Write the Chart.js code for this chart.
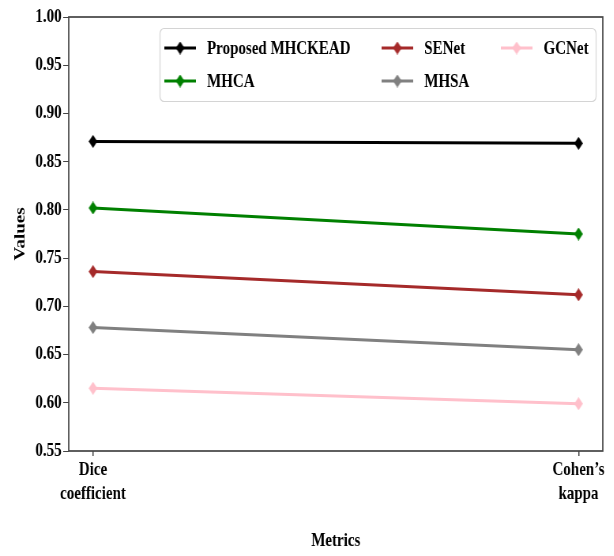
<!DOCTYPE html>
<html>
<head>
<meta charset="utf-8">
<script src="https://cdn.jsdelivr.net/npm/chart.js@4.4.1/dist/chart.umd.min.js"></script>
<style>
  html,body{margin:0;padding:0;background:#fff;overflow:hidden;}
  #wrap{width:777px;height:556px;transform:scaleX(0.79);transform-origin:0 0;}
</style>
</head>
<body>
<!-- the reference text looks squeezed sideways, so the chart is drawn wider and squeezed -->
<div id="wrap"><canvas id="chart" width="777" height="556"></canvas></div>
<script>
// data
const categories=[['Dice','coefficient'],['Cohen\u2019s','kappa']]
const seriesNames=['Proposed MHCKEAD','MHCA','SENet','MHSA','GCNet']
const proposed=[0.871,0.869]
const mhca=[0.802,0.775]
const senet=[0.736,0.712]
const mhsa=[0.678,0.655]
const gcnet=[0.615,0.599]
const yTicks=[0.55,0.60,0.65,0.70,0.75,0.80,0.85,0.90,0.95,1.00]
const colors=['#000000','#008000','#a52a2a','#808080','#ffc0cb']

const fontFamily="'Liberation Serif','Times New Roman',serif"
const axisColor='#444'

// diamond marker
function diamond(color,w,h){
    const c=document.createElement('canvas')
    c.width=w; c.height=h
    const ctx=c.getContext('2d')
    ctx.fillStyle=color
    ctx.beginPath()
    ctx.moveTo(w/2,0)
    ctx.lineTo(w,h/2)
    ctx.lineTo(w/2,h)
    ctx.lineTo(0,h/2)
    ctx.closePath()
    ctx.fill()
    return c
}

const allValues=[proposed,mhca,senet,mhsa,gcnet]
const datasets=seriesNames.map((name,i)=>({
    label:name,
    data:allValues[i].map((v,j)=>({x:j,y:v})),
    borderColor:colors[i],
    backgroundColor:colors[i],
    borderWidth:3,
    pointStyle:diamond(colors[i],11,13),
    pointRadius:6,
    tension:0
}))

// box round the plot
const frame={
    id:'frame',
    afterDraw(chart){
        const {ctx,chartArea:a}=chart
        ctx.save()
        ctx.strokeStyle=axisColor
        ctx.lineWidth=1.7
        ctx.strokeRect(a.left,a.top,a.right-a.left,a.bottom-a.top)
        ctx.restore()
    }
}

// legend inside the plot, 3 columns, filled column by column
const innerLegend={
    id:'innerLegend',
    afterDraw(chart){
        const {ctx,chartArea:a}=chart
        const bw=552, bh=73
        const bx=a.right-bw-9, by=a.top+11
        ctx.save()
        ctx.fillStyle='rgba(255,255,255,0.85)'
        ctx.strokeStyle='#d4d4d4'
        ctx.lineWidth=1.2
        ctx.beginPath()
        ctx.roundRect(bx+0.5,by+0.5,bw,bh,5)
        ctx.fill()
        ctx.stroke()
        const colX=[bx+6,bx+281,bx+432]
        const rowY=[by+20,by+53]
        ctx.font='bold 19px '+fontFamily
        ctx.textBaseline='middle'
        chart.data.datasets.forEach((ds,i)=>{
            const x=colX[Math.floor(i/2)], y=rowY[i%2]
            ctx.strokeStyle=ds.borderColor
            ctx.lineWidth=3
            ctx.beginPath()
            ctx.moveTo(x,y); ctx.lineTo(x+40,y)
            ctx.stroke()
            ctx.drawImage(ds.pointStyle,x+20-5.5,y-6.5)
            ctx.fillStyle='#000'
            ctx.fillText(ds.label,x+54,y+1)
        })
        ctx.restore()
    }
}

new Chart(document.getElementById('chart'),{
    type:'line',
    data:{datasets},
    options:{
        responsive:false,
        animation:false,
        layout:{padding:{left:0,top:17,right:14,bottom:0}},
        plugins:{legend:{display:false},tooltip:{enabled:false}},
        scales:{
            x:{
                type:'linear',
                min:-0.05,
                max:1.05,
                afterBuildTicks:s=>{s.ticks=categories.map((c,i)=>({value:i}))},
                afterFit:s=>{s.height=105},
                border:{display:false},
                grid:{drawOnChartArea:false,drawTicks:true,tickLength:5,lineWidth:1.5,color:axisColor},
                ticks:{
                    color:'#000',
                    padding:2,
                    maxRotation:0,
                    autoSkip:false,
                    font:{family:fontFamily,size:19,weight:'bold',lineHeight:1.26},
                    callback:v=>categories[v]
                },
                title:{
                    display:true,
                    text:'Metrics',
                    color:'#000',
                    padding:{top:0,bottom:4},
                    font:{family:fontFamily,size:19,weight:'bold'}
                }
            },
            y:{
                min:0.55,
                max:1.0,
                afterBuildTicks:s=>{s.ticks=yTicks.map(v=>({value:v}))},
                afterFit:s=>{s.width=87},
                border:{display:false},
                grid:{drawOnChartArea:false,drawTicks:true,tickLength:7,color:axisColor},
                ticks:{
                    color:'#000',
                    padding:2,
                    font:{family:fontFamily,size:19,weight:'bold'},
                    callback:v=>v.toFixed(2)
                },
                title:{
                    display:true,
                    text:'Values',
                    color:'#000',
                    padding:{top:15,bottom:0},
                    font:{family:fontFamily,size:19,weight:'bold'}
                }
            }
        }
    },
    plugins:[frame,innerLegend]
})
</script>
</body>
</html>
